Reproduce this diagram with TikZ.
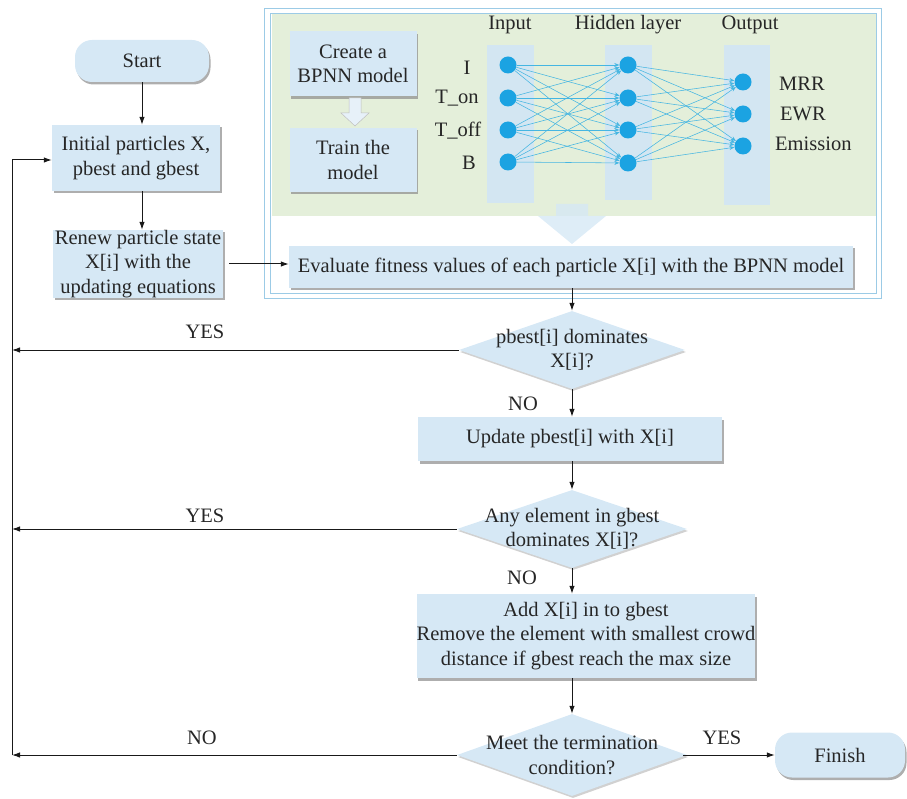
\documentclass[tikz,border=0pt]{standalone}
\usepackage{fontspec}
\setmainfont{LiberationSerif}[Extension=.ttf, UprightFont=*-Regular, BoldFont=*-Bold, ItalicFont=*-Italic, BoldItalicFont=*-BoldItalic]
\usetikzlibrary{shapes.geometric,shadows,arrows.meta}
\definecolor{boxfill}{HTML}{D6E8F5}
\definecolor{greenbg}{HTML}{E4EFDA}
\definecolor{colfill}{HTML}{D3E6F2}
\definecolor{nnblue}{HTML}{1BA3E2}
\definecolor{nnline}{HTML}{45B6E2}
\definecolor{frameblue}{HTML}{9CCBE6}
\begin{document}
\begin{tikzpicture}[x=1pt,y=-1pt,
  every node/.style={font=\rmfamily\fontsize{20.5}{24.5}\selectfont, text=black!85},
  box/.style={fill=boxfill, align=center, inner sep=0pt,
    drop shadow={shadow xshift=1.5pt, shadow yshift=-2.5pt, fill=black!45, opacity=.7}},
  term/.style={box, rounded corners=17pt},
  dec/.style={diamond, fill=boxfill, inner sep=0pt, aspect=2.9,
    drop shadow={shadow xshift=1pt, shadow yshift=-2pt, fill=black!30, opacity=.6}},
  dtext/.style={align=center, inner sep=0pt},
  flow/.style={-{Latex[length=8pt,width=5.5pt]}, line width=1pt, draw=black!90},
  nn/.style={circle, fill=nnblue, minimum size=17pt, inner sep=0pt},
  nnedge/.style={-{Stealth[length=5pt,width=4pt]}, draw=nnline, line width=0.55pt},
  lbl/.style={inner sep=0pt},
  col/.style={fill=colfill},
]
\useasboundingbox (0,0) rectangle (907,799);

% frame and green area
\fill[greenbg] (272,14) rectangle (876,216);
\draw[frameblue, line width=0.8pt] (264,8) rectangle (881,298);
\draw[frameblue, line width=0.8pt] (270,13) rectangle (876,293);

% layer columns
\fill[col] (487,45) rectangle (534,203);
\fill[col] (605,45) rectangle (652,200);
\fill[col] (724,45) rectangle (770,205);

% headers
\node[lbl] (hin) at (510,25) {Input};
\node[lbl] (hhd) at (628,25) {Hidden layer};
\node[lbl] (hout) at (750,25) {Output};

% NN nodes
\node[nn] (in1) at (508,65) {};
\node[nn] (in2) at (508,98) {};
\node[nn] (in3) at (508,130) {};
\node[nn] (in4) at (508,162) {};
\node[nn] (hd1) at (628,65) {};
\node[nn] (hd2) at (628,98) {};
\node[nn] (hd3) at (628,130) {};
\node[nn] (hd4) at (628,163) {};
\node[nn] (out1) at (743,82) {};
\node[nn] (out2) at (743,114) {};
\node[nn] (out3) at (743,146) {};
\foreach \i in {1,...,4}{
  \foreach \j in {1,...,4}{\draw[nnedge] (in\i) -- (hd\j);}
  \foreach \j in {1,...,3}{\draw[nnedge] (hd\i) -- (out\j);}
}
% NN labels
\node[lbl] (lI) at (467,68) {I};
\node[lbl] (lTon) at (457,98) {T\_on};
\node[lbl] (lToff) at (458,131) {T\_off};
\node[lbl] (lB) at (469,163) {B};
\node[lbl, anchor=west] (lMRR) at (779,84) {MRR};
\node[lbl, anchor=west] (lEWR) at (780,114) {EWR};
\node[lbl, anchor=west] (lEm) at (775,144) {Emission};

% BPNN boxes
\node[box, minimum width=127pt, minimum height=65pt] (create) at (353,64) {Create a\\BPNN model};
\node[box, minimum width=127pt, minimum height=64pt] (train) at (353,160) {Train the\\model};
\fill[boxfill!60, draw=black!25, line width=0.5pt]
  (349,98) -- (361,98) -- (361,113) -- (369,113) -- (355,126) -- (341,113) -- (349,113) -- cycle;

% faded block arrow into evaluate
\fill[boxfill, opacity=0.8] (556,204) -- (588,204) -- (588,216) -- (606,216) -- (572,244) -- (538,216) -- (556,216) -- cycle;

% main flow
\node[term, minimum width=134pt, minimum height=42pt] (start) at (142,61) {Start};
\node[box, minimum width=168pt, minimum height=66pt] (init) at (136,158) {Initial particles X,\\pbest and gbest};
\node[box, minimum width=170pt, minimum height=68pt] (renew) at (138,264) {Renew particle state\\X[i] with the\\updating equations};
\node[box, minimum width=564pt, minimum height=42pt] (eval) at (571,267) {Evaluate fitness values of each particle X[i] with the BPNN model};
\node[dec, minimum width=226pt, minimum height=78pt] (d1) at (572,350) {};
\node[dtext] (t1) at (d1) {pbest[i] dominates\\X[i]?};
\node[box, minimum width=304pt, minimum height=44pt] (upd) at (570,439) {Update pbest[i] with X[i]};
\node[dec, minimum width=230pt, minimum height=78pt] (d2) at (572,529) {};
\node[dtext] (t2) at (d2) {Any element in gbest\\dominates X[i]?};
\node[box, minimum width=337pt, minimum height=84pt] (add) at (586,636) {Add X[i] in to gbest\\Remove the element with smallest crowd\\distance if gbest reach the max size};
\node[dec, minimum width=230pt, minimum height=82pt] (d3) at (572,755) {};
\node[dtext] (t3) at (d3) {Meet the termination\\condition?};
\node[term, minimum width=130pt, minimum height=45pt] (finish) at (840,755) {Finish};

\coordinate (lb) at (12,755);
\coordinate (lt) at (12,160);

\draw[flow] (start.south -| 142,0) -- (init.north -| 142,0);
\draw[flow] (init.south -| 142,0) -- (renew.north -| 142,0);
\draw[flow] (renew.east) ++(6,0) -- (eval.west |- renew.east);
\draw[flow] (eval.south -| d1.north) -- (d1.north);
\draw[flow] (d1.south) -- (upd.north -| d1.south);
\draw[flow] (upd.south -| d2.north) -- (d2.north);
\draw[flow] (d2.south) -- (add.north -| d2.south);
\draw[flow] (add.south -| d3.north) -- (d3.north);
\draw[flow] (d3.east) ++(-4,0) -- (finish.west);
\draw[flow] (d1.west) -- (d1.west -| lb);
\draw[flow] (d2.west) -- (d2.west -| lb);
\draw[flow] (d3.west) -- (lb);
\draw[flow] (lb) -- (lt) -- (init.west |- lt);

% labels on flow
\node[lbl] (yes1) at (205,332) {YES};
\node[lbl] (no1) at (523,404) {NO};
\node[lbl] (yes2) at (205,516) {YES};
\node[lbl] (no2) at (522,578) {NO};
\node[lbl] (no3) at (202,738) {NO};
\node[lbl] (yes3) at (722,738) {YES};
\end{tikzpicture}
\end{document}
